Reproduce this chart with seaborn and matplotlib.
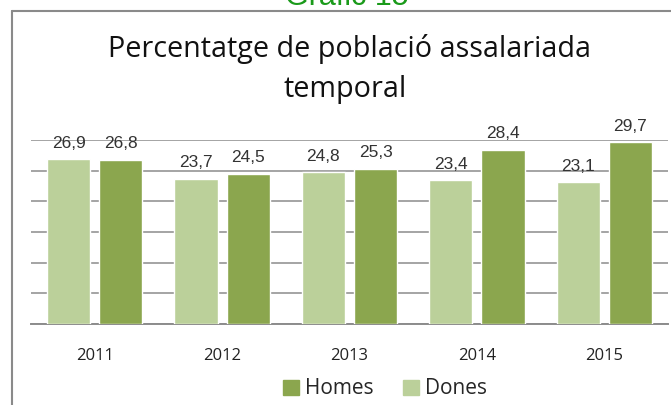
import pandas as pd
import seaborn as sns
import matplotlib.pyplot as plt
from matplotlib.lines import Line2D

years = ["2011", "2012", "2013", "2014", "2015"]
dones = [26.9, 23.7, 24.8, 23.4, 23.1]
homes = [26.8, 24.5, 25.3, 28.4, 29.7]
series = ["Dones", "Homes"]
colors = {"Dones": "#BBD09A", "Homes": "#8BA64E"}

df = pd.DataFrame({
    "any": years * 2,
    "grup": ["Dones"] * len(years) + ["Homes"] * len(years),
    "valor": dones + homes,
})

sns.set_style("white")
plt.rcParams["font.family"] = ["Open Sans", "DejaVu Sans"]

fig = plt.figure(figsize=(6.71, 4.05), dpi=100)
ax = fig.add_axes([31 / 671, 1 - 324 / 405, 637 / 671, 184 / 405])

sns.barplot(data=df, x="any", y="valor", hue="grup", hue_order=series,
            palette=colors, width=0.82, gap=0.17, ax=ax, legend=False,
            saturation=1, zorder=3)

for cont in ax.containers:
    labels = [f"{v:.1f}".replace(".", ",") for v in cont.datavalues]
    ax.bar_label(cont, labels=labels, padding=6, fontsize=12.5,
                 family="Liberation Sans", color="#333333")

ax.set_ylim(0, 30)
ax.set_yticks(range(0, 31, 5))
ax.yaxis.grid(True, color="#8c8c8c", linewidth=1.1, zorder=0)
ax.set_axisbelow(True)
ax.tick_params(axis="y", left=False, labelleft=False)
ax.tick_params(axis="x", bottom=False, labelsize=12, pad=14, colors="#222222")
ax.set_xlabel("")
ax.set_ylabel("")
for s in ["top", "right", "left"]:
    ax.spines[s].set_visible(False)
ax.spines["bottom"].set_color("#8c8c8c")
ax.spines["bottom"].set_linewidth(1.4)
ax.set_xlim(-0.5, 4.5)

# title in two lines
fig.text(350 / 671, 1 - 57 / 405, "Percentatge de població assalariada",
         ha="center", va="baseline", fontsize=20.7, color="#111111")
fig.text(345 / 671, 1 - 97 / 405, "temporal",
         ha="center", va="baseline", fontsize=20.7, color="#111111")

fig.text(347 / 671, 1 - 5 / 405, "Gràfic 15", ha="center", va="baseline",
         fontsize=22, family="Liberation Sans", color="#1a9a1a")

# chart frame
fig.add_artist(Line2D([12 / 671, 12 / 671], [0, 1 - 11 / 405],
                      color="#8a8a8a", linewidth=1.5))
fig.add_artist(Line2D([12 / 671, 1], [1 - 11 / 405, 1 - 11 / 405],
                      color="#8a8a8a", linewidth=1.5))

handles = [plt.Rectangle((0, 0), 1, 1, color=colors["Homes"]),
           plt.Rectangle((0, 0), 1, 1, color=colors["Dones"])]
fig.legend(handles, ["Homes", "Dones"], loc="center",
           bbox_to_anchor=(385 / 671, 1 - 389 / 405), ncol=2, frameon=False,
           fontsize=15, handlelength=0.75, handleheight=0.75,
           handletextpad=0.3, columnspacing=1.4)

fig.savefig("out.png", dpi=100)
